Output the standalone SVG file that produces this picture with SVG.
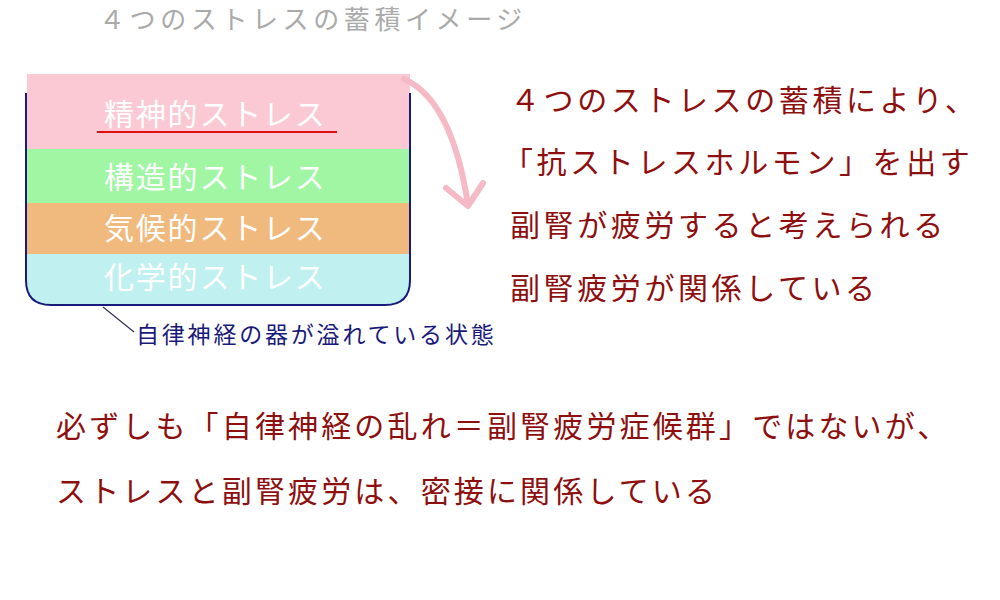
<svg xmlns="http://www.w3.org/2000/svg" width="1000" height="600" viewBox="0 0 1000 600">
<style>
.t{font-family:"Noto Sans CJK JP","Noto Sans",sans-serif}
.title{font-size:26px;fill:#aaaaaa;letter-spacing:4.6px}
.layer{font-size:30px;fill:#ffffff;letter-spacing:1.8px}
.note{font-size:23px;fill:#1a1a7a;letter-spacing:2.8px}
.red{font-size:30px;fill:#8e0f0f;letter-spacing:3.6px}
.red2{font-size:30px;fill:#8e0f0f;letter-spacing:3.15px}
</style>
<rect width="1000" height="600" fill="#ffffff"/>
<text class="t title" x="99" y="29">４つのストレスの蓄積イメージ</text>
<g id="container">
<rect x="27" y="74" width="383" height="75" fill="#fbc9d3"/>
<rect x="27" y="149" width="383" height="54" fill="#a0f6a2"/>
<rect x="27" y="203" width="383" height="51" fill="#f0b97e"/>
<path d="M27,254 H410 V280 Q410,305 385,305 H52 Q27,305 27,280 Z" fill="#c0f0f0"/>
<path d="M26,93 V280 Q26,305 51,305 H385 Q410,305 410,280 V93" fill="none" stroke="#1a1a7a" stroke-width="2"/>
</g>
<g id="layer-mental"><text class="t layer" x="104" y="125">精神的ストレス</text>
<line x1="97" y1="132" x2="337" y2="132" stroke="#dd1111" stroke-width="2"/></g>
<g id="layer-structural"><text class="t layer" x="104" y="188">構造的ストレス</text></g>
<g id="layer-climate"><text class="t layer" x="104" y="239">気候的ストレス</text></g>
<g id="layer-chemical"><text class="t layer" x="104" y="288">化学的ストレス</text></g>
<g id="connectors">
<line x1="103" y1="307" x2="134" y2="332" stroke="#333355" stroke-width="1.2"/>
<path d="M404,79 Q452,100 468,205" fill="none" stroke="#f6b9c6" stroke-width="6" stroke-linecap="round"/>
<path d="M446,188 L468,206 L483,183" fill="none" stroke="#f6b9c6" stroke-width="6" stroke-linecap="round" stroke-linejoin="round"/>
</g>
<g id="label-vessel"><text class="t note" x="136" y="343">自律神経の器が溢れている状態</text></g>
<g id="text-right">
<text class="t red" x="510" y="111">４つのストレスの蓄積により、</text>
<text class="t red" x="503" y="173">「抗ストレスホルモン」を出す</text>
<text class="t red" x="510" y="236">副腎が疲労すると考えられる</text>
<text class="t red" x="510" y="299">副腎疲労が関係している</text>
</g>
<g id="text-bottom">
<text class="t red2" x="56" y="437">必ずしも「自律神経の乱れ＝副腎疲労症候群」ではないが、</text>
<text class="t red2" x="56" y="502">ストレスと副腎疲労は、密接に関係している</text>
</g>
</svg>
